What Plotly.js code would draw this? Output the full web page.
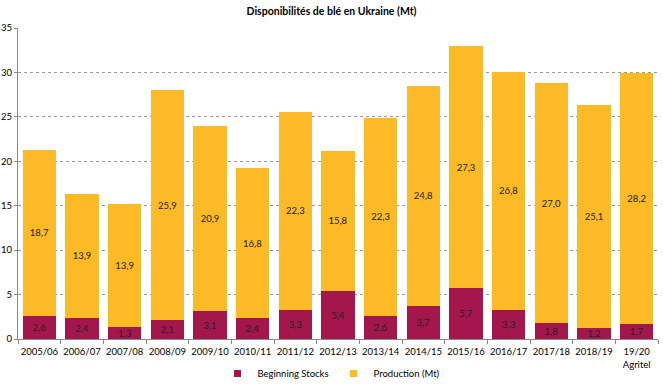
<!DOCTYPE html>
<html><head><meta charset="utf-8">
<script src="https://cdn.plot.ly/plotly-3.0.1.min.js"></script>
<style>body{margin:0;background:#fff}#c{width:663px;height:388px}</style>
</head><body><div id="c"></div>
<script>
const categories = ["2005/06","2006/07","2007/08","2008/09","2009/10","2010/11","2011/12","2012/13","2013/14","2014/15","2015/16","2016/17","2017/18","2018/19","19/20<br>Agritel"];
const beginningStocks = [2.6,2.4,1.3,2.1,3.1,2.4,3.3,5.4,2.6,3.7,5.7,3.3,1.8,1.2,1.7];
const production = [18.7,13.9,13.9,25.9,20.9,16.8,22.3,15.8,22.3,24.8,27.3,26.8,27.0,25.1,28.2];
const yTicks = [0,5,10,15,20,25,30,35];
const seriesNames = ['Beginning Stocks','Production (Mt)'];
const seriesColors = ['#A3174D','#FCBA27'];

const fmt = v => v.toFixed(1).replace('.', ',');
const fontFam = 'Lato, "Open Sans", sans-serif';

const barBase = {type:'bar', x:categories, textposition:'inside', insidetextanchor:'middle',
  textangle:0, constraintext:'none', showlegend:false, hoverinfo:'none',
  textfont:{family:fontFam, size:9.5, color:'#222'}};

const data = [
  Object.assign({}, barBase, {name:seriesNames[0], y:beginningStocks, marker:{color:seriesColors[0]}, text:beginningStocks.map(fmt)}),
  Object.assign({}, barBase, {name:seriesNames[1], y:production, marker:{color:seriesColors[1]}, text:production.map(fmt)}),
  {type:'scatter', mode:'markers', x:[null], y:[null], name:seriesNames[0], marker:{symbol:'square', size:7, color:seriesColors[0]}, showlegend:true},
  {type:'scatter', mode:'markers', x:[null], y:[null], name:seriesNames[1], marker:{symbol:'square', size:7, color:seriesColors[1]}, showlegend:true}
];

const layout = {
  width:663, height:388, barmode:'stack', bargap:0.22,
  margin:{l:18, r:5, t:28, b:49, autoexpand:false},
  paper_bgcolor:'#fff', plot_bgcolor:'#fff',
  font:{family:fontFam, size:9.5, color:'#000'},
  title:{text:'<b>Disponibilités de blé en Ukraine (Mt)</b>', x:0.5, xanchor:'center', y:0.97, yanchor:'middle',
         font:{family:fontFam, size:10.5, color:'#000'}},
  xaxis:{type:'category', showline:true, linecolor:'#888', linewidth:1,
         ticks:'outside', tickson:'boundaries', ticklen:4, tickcolor:'#888',
         tickangle:0, automargin:false, ticklabelstandoff:4,
         tickfont:{family:fontFam, size:9.5, color:'#000'}, showgrid:false},
  yaxis:{range:[0,35], tickvals:yTicks, ticktext:yTicks.map(String),
         showline:true, linecolor:'#888', linewidth:1, automargin:false,
         ticks:'outside', ticklen:3, tickcolor:'#888',
         gridcolor:'#999', griddash:'3px,3px', gridwidth:1,
         tickfont:{family:fontFam, size:9.5, color:'#000'}, zeroline:false},
  legend:{orientation:'h', x:0.5, xanchor:'center', xref:'container', y:-0.022, yanchor:'bottom', yref:'container',
          font:{family:fontFam, size:9.5, color:'#000'}, itemwidth:30, traceorder:'normal'},
  showlegend:true
};
Plotly.newPlot('c', data, layout, {displayModeBar:false, staticPlot:true});
</script></body></html>
